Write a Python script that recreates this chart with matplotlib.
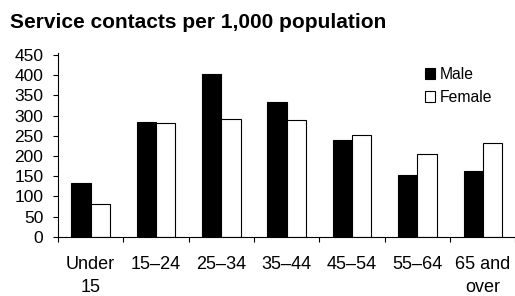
import numpy as np
import matplotlib.pyplot as plt

plt.rcParams['font.family'] = ['Liberation Sans', 'DejaVu Sans']

groups = ['Under\n15', '15–24', '25–34', '35–44', '45–54', '55–64', '65 and\nover']
male = [132, 285, 404, 334, 239, 152, 163]
female = [80, 282, 291, 289, 253, 206, 232]

W, H = 515, 296
fig = plt.figure(figsize=(W / 100, H / 100), dpi=100)
ax = fig.add_axes([58 / W, (H - 236.7) / H, 457.5 / W, 181.7 / H])

x = np.arange(len(groups))
w = 0.295
ax.bar(x - w / 2, male, w, color='black', edgecolor='black', linewidth=0.8, label='Male')
ax.bar(x + w / 2, female, w, color='white', edgecolor='black', linewidth=0.8, label='Female')

ax.set_xlim(-0.5, len(groups) - 0.5)
ax.set_ylim(0, 450)
ax.set_yticks(range(0, 451, 50))
ax.tick_params(axis='y', direction='out', length=3.6, width=0.8, pad=7, labelsize=12.5)

ax.set_xticks(np.arange(len(groups) + 1) - 0.5)
ax.set_xticklabels([])
ax.tick_params(axis='x', which='major', direction='out', length=3.6, width=0.8)
ax.set_xticks(x, minor=True)
ax.set_xticklabels(groups, minor=True, fontsize=13, linespacing=1.45, va='top')
ax.tick_params(axis='x', which='minor', length=0, pad=14)

for s in ['top', 'right']:
    ax.spines[s].set_visible(False)
ax.spines['bottom'].set_linewidth(0.8)
ax.spines['left'].set_linewidth(0.8)
ax.spines['left'].set_bounds(0, 455)

fig.legend(*ax.get_legend_handles_labels(), loc='upper left',
           bbox_to_anchor=(425 / W, 1 - 67 / H), frameon=False, fontsize=11.3,
           handlelength=0.64, handleheight=0.64, handletextpad=0.3, labelspacing=0.5,
           borderpad=0, borderaxespad=0)

fig.text(10 / W, 1 - 28.3 / H, 'Service contacts per 1,000 population',
         fontsize=15, fontweight='bold', va='baseline', ha='left')

fig.savefig('out.png', dpi=100)
